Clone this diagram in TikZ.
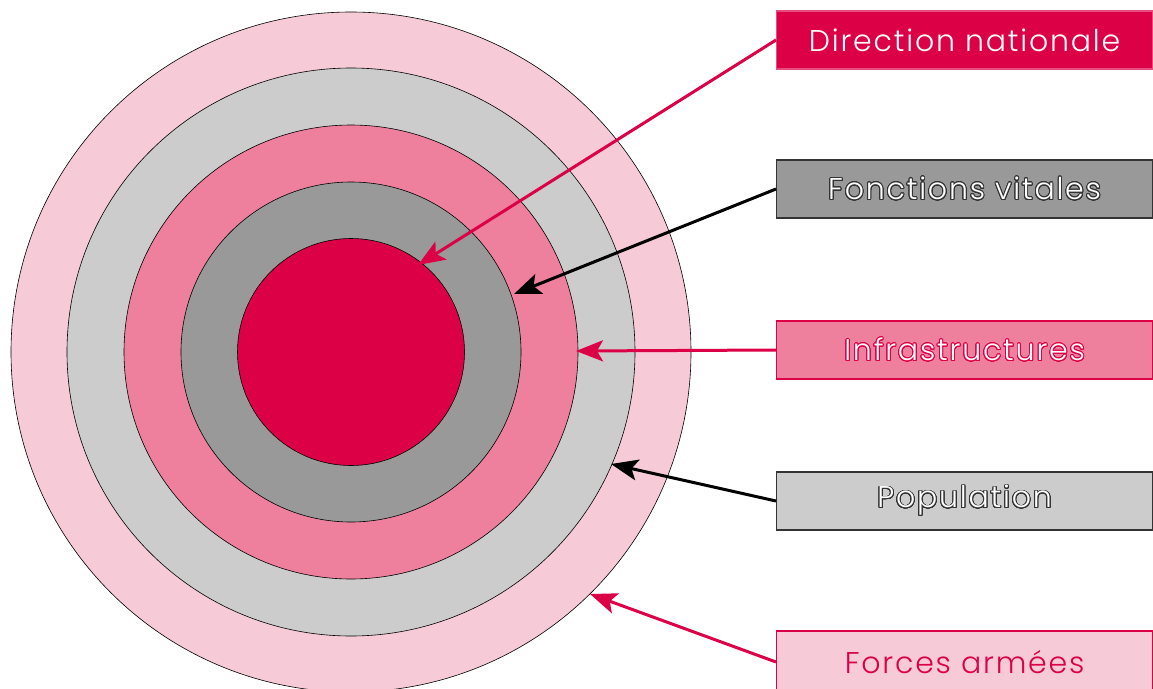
\documentclass[tikz,border=0pt]{standalone}
\usepackage{fontspec}
\setmainfont{Poppins Light}[LetterSpace=6]
\usepackage{contour}
\contournumber{32}
\usetikzlibrary{arrows.meta}
\definecolor{crim}{HTML}{DC0046}
\definecolor{rosep}{HTML}{F7CAD8}
\definecolor{rosem}{HTML}{EE809E}
\definecolor{grisc}{HTML}{CCCCCC}
\definecolor{grisf}{HTML}{999999}
\definecolor{bordg}{HTML}{333333}
\tikzset{
  ring/.style={draw=black, line width=0.6pt},
  lab/.style={anchor=west, minimum width=376pt, minimum height=58pt, inner sep=0pt, line width=1.2pt, font=\fontsize{30}{33}\selectfont},
  arr/.style={line width=3pt, -{Stealth[length=27pt,width=21pt,inset=6pt]}}
}
\begin{document}
\begin{tikzpicture}[x=1pt,y=-1pt]
\useasboundingbox (0,0) rectangle (1153,688);
% circles
\fill[rosep] (351,352) circle (340);
\draw[ring] (351,352) circle (340);
\node[circle, fill=grisc, ring, minimum size=568pt, inner sep=0pt] (c2) at (351,352) {};
\node[circle, fill=rosem, ring, minimum size=454pt, inner sep=0pt] (c3) at (351,352) {};
\node[circle, fill=grisf, ring, minimum size=340pt, inner sep=0pt] (c4) at (351,352) {};
\node[circle, fill=crim, ring, minimum size=227pt, inner sep=0pt] (c5) at (351,352) {};
\coordinate (c1) at (351,352);
% boxes
\node[lab, fill=crim, draw=crim!70!white, text=white] (b1) at (776,40) {Direction nationale};
\node[lab, fill=grisf, draw=bordg] (b2) at (776,189) {\contourlength{0.9pt}\contour{bordg}{\color{white}Fonctions vitales}};
\node[lab, fill=rosem, draw=crim] (b3) at (776,350) {\contourlength{0.9pt}\contour{crim}{\color{white}Infrastructures}};
\node[lab, fill=grisc, draw=bordg] (b4) at (776,501) {\contourlength{0.9pt}\contour{bordg}{\color{white}Population}};
\node[lab, fill=rosep, draw=crim, text=crim, minimum height=62pt] (b5) at (776,662) {Forces armées};
% arrows
\coordinate (t1) at (418,265);
\coordinate (t2) at (514,294);
\coordinate (t3) at (576,351);
\coordinate (t4) at (611,464);
\coordinate (t5) at (590,594);
\draw[arr, crim] (b1.west) -- (t1);
\draw[arr, black] (b2.west) -- (t2);
\draw[arr, crim] (b3.west) -- (t3);
\draw[arr, black] (b4.west) -- (t4);
\draw[arr, crim] (b5.west) -- (t5);
\end{tikzpicture}
\end{document}
